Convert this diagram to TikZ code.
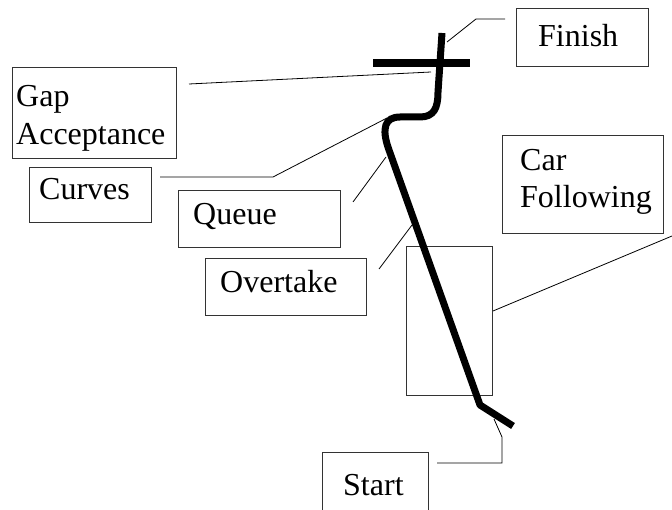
\documentclass[tikz,border=0pt]{standalone}
\usepackage{fontspec}
\setmainfont{Liberation Serif}
\begin{document}
\begin{tikzpicture}[x=1pt,y=-1pt,
  box/.style={draw=black!80, line width=1pt, inner sep=0pt, anchor=north west},
  lbl/.style={inner sep=0pt, anchor=base west, font=\fontsize{32}{37}\selectfont},
  leader/.style={draw=black, line width=0.8pt},
  road/.style={line width=7pt, line join=round}]
\useasboundingbox (0,0) rectangle (672,510);
\clip (0,0) rectangle (672,510);
% boxes
\node[box, minimum width=132pt, minimum height=58pt] (finish) at (516,8) {};
\node[box, minimum width=164pt, minimum height=91pt] (gap) at (12,67) {};
\node[box, minimum width=122pt, minimum height=55pt] (curves) at (29,167) {};
\node[box, minimum width=162pt, minimum height=57pt] (queue) at (178,190) {};
\node[box, minimum width=161pt, minimum height=57pt] (overtake) at (205,258) {};
\node[box, minimum width=161pt, minimum height=98pt] (car) at (502,135) {};
\node[box, minimum width=86pt, minimum height=149pt] (zone) at (406,246) {};
\node[box, minimum width=106pt, minimum height=80pt] (start) at (322,452) {};
% labels
\node[lbl] (tfinish) at (538,47) {Finish};
\node[lbl] (tgap) at (16,107) {Gap};
\node[lbl] (tacc) at (16,145) {Acceptance};
\node[lbl] (tcurves) at (39,200) {Curves};
\node[lbl] (tqueue) at (193,225) {Queue};
\node[lbl] (tover) at (220,293) {Overtake};
\node[lbl] (tcar) at (520,171) {Car};
\node[lbl] (tfol) at (520,208) {Following};
\node[lbl] (tstart) at (343,495) {Start};
% road
\draw[road] (513,426) -- (480,405) -- (389,150) .. controls (381,128) and (385,117) .. (400,117) -- (420,117) .. controls (434,117) and (438,108) .. (438,92) -- (442,33);
\draw[line width=7.5pt] (373,63) -- (470,63);
% leader coordinates
\coordinate (f1) at (447,42); \coordinate (f2) at (476,19); \coordinate (f3) at (505,19);
\coordinate (g1) at (189,84); \coordinate (g2) at (431,72);
\coordinate (c1) at (160,177); \coordinate (c2) at (273,177); \coordinate (c3) at (387,118);
\coordinate (q1) at (353,202); \coordinate (q2) at (386,157);
\coordinate (o1) at (379,269); \coordinate (o2) at (412,225);
\coordinate (k1) at (zone.east |- 0,311); \coordinate (k2) at (672,236);
\coordinate (s1) at (437,463); \coordinate (s2) at (502,463); \coordinate (s3) at (502,437); \coordinate (s4) at (494,419);
\draw[leader] (f1) -- (f2) -- (f3);
\draw[leader] (g1) -- (g2);
\draw[leader] (c1) -- (c2) -- (c3);
\draw[leader] (q1) -- (q2);
\draw[leader] (o1) -- (o2);
\draw[leader] (k1) -- (k2);
\draw[leader] (s1) -- (s2) -- (s3) -- (s4);
\end{tikzpicture}
\end{document}
